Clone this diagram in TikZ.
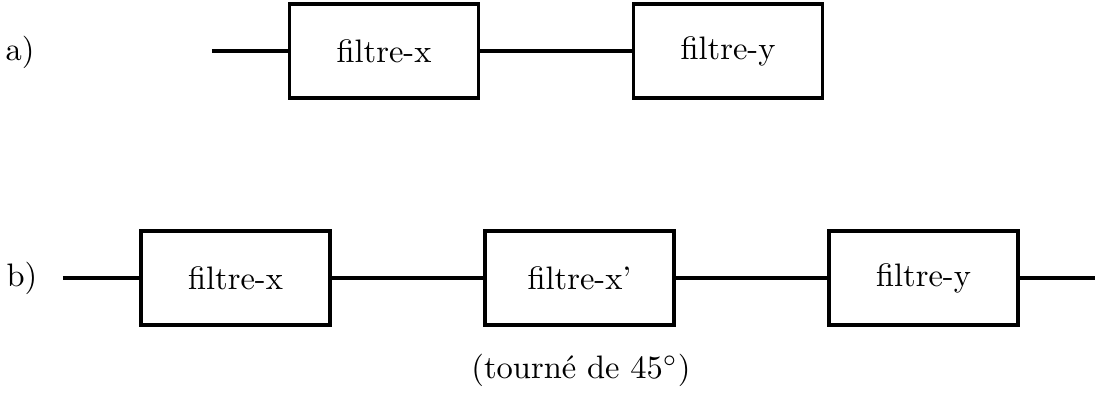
\documentclass[tikz,border=0pt]{standalone}
\usepackage{fontspec}
\begin{document}
\begin{tikzpicture}[x=0.3077pt,y=-0.3077pt,
  filterbox/.style={draw,line width=1pt,minimum width=58.2pt,minimum height=28.9pt,inner sep=0pt},
  wire/.style={line width=1pt}]
\useasboundingbox (0,0) rectangle (1095,392);
% row a
\node (la) at (20,52) {a)};
\coordinate (ina) at (212,51);
\node[filterbox] (a1) at (384,51) {filtre-x};
\node[filterbox] (a2) at (728,51) {filtre-y};
\draw[wire] (ina) -- (a1.west);
\draw[wire] (a1.east) -- (a2.west);
% row b
\node (lb) at (22,278) {b)};
\coordinate (inb) at (63,278);
\coordinate (outb) at (1095,278);
\node[filterbox] (b1) at (235.5,278) {filtre-x};
\node[filterbox] (b2) at (579.5,278) {filtre-x'};
\node[filterbox] (b3) at (923.5,278) {filtre-y};
\draw[wire] (inb) -- (b1.west);
\draw[wire] (b1.east) -- (b2.west);
\draw[wire] (b2.east) -- (b3.west);
\draw[wire] (b3.east) -- (outb);
\node (rot) at (581,370) {(tourné de 45$^\circ$)};
\end{tikzpicture}
\end{document}
